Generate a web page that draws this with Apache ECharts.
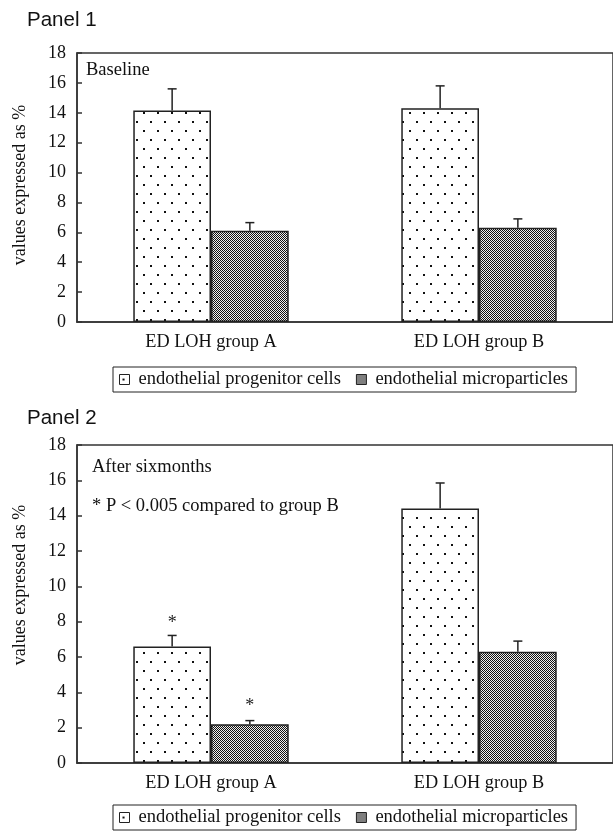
<!DOCTYPE html>
<html><head><meta charset="utf-8">
<script src="https://cdn.jsdelivr.net/npm/echarts@6/dist/echarts.min.js"></script>
<style>html,body{margin:0;padding:0;background:#fff}#c{width:613px;height:831px}</style>
</head><body><div id="c"></div>
<script>
// ---- data ----
const categories = ['ED LOH group A', 'ED LOH group B'];
const seriesNames = ['endothelial progenitor cells', 'endothelial microparticles'];
const yTickLabels = ['0', '2', '4', '6', '8', '10', '12', '14', '16', '18'];
const panel1EPC = [14.15, 14.3];
const panel1EPCErr = [1.45, 1.5];
const panel1EMP = [6.1, 6.3];
const panel1EMPErr = [0.55, 0.6];
const panel2EPC = [6.6, 14.4];
const panel2EPCErr = [0.62, 1.45];
const panel2EMP = [2.2, 6.3];
const panel2EMPErr = [0.2, 0.6];
const panel2EPCSig = [1, 0];
const panel2EMPSig = [1, 0];
const panel1Note = ['Baseline'];
const panel2Note = ['After sixmonths', '* P < 0.005 compared to group B'];

// ---- patterns ----
function dotPattern() {
  const c = document.createElement('canvas'); c.width = 14; c.height = 18;
  const g = c.getContext('2d');
  g.fillStyle = '#fff'; g.fillRect(0, 0, 14, 18);
  g.fillStyle = '#111';
  g.fillRect(3, 4, 2, 2); g.fillRect(10, 13, 2, 2);
  return c;
}
function checkPattern() {
  const c = document.createElement('canvas'); c.width = 2; c.height = 2;
  const g = c.getContext('2d');
  g.fillStyle = '#eee'; g.fillRect(0, 0, 2, 2);
  g.fillStyle = '#111'; g.fillRect(0, 0, 1, 1); g.fillRect(1, 1, 1, 1);
  return c;
}
const dots = { image: dotPattern(), repeat: 'repeat' };
const checks = { image: checkPattern(), repeat: 'repeat' };

const SERIF = '"Liberation Serif", "Times New Roman", serif';
const SANS = '"Liberation Sans", Arial, sans-serif';
const BAR_FRAC = 0.29;

function errRender(sign) {
  return function (params, api) {
    const i = api.value(0), v = api.value(1), e = api.value(2), s = api.value(3);
    const band = api.size([1, 0])[0];
    const base = api.coord([i, v]);
    const x = base[0] + sign * band * BAR_FRAC / 2;
    const top = api.coord([i, v + e])[1];
    const children = [
      { type: 'line', shape: { x1: x, y1: base[1], x2: x, y2: top }, style: { stroke: '#222', lineWidth: 1.5 } },
      { type: 'line', shape: { x1: x - 4.5, y1: top, x2: x + 4.5, y2: top }, style: { stroke: '#222', lineWidth: 1.5 } }
    ];
    if (s) children.push({ type: 'text', style: { text: '*', x: x, y: top - 4 - sign * 1, align: 'center', verticalAlign: 'bottom', font: '18px ' + SERIF, fill: '#222' } });
    return { type: 'group', children: children };
  };
}
function errData(vals, errs, sig) {
  return vals.map((v, i) => [i, v, errs[i], sig ? sig[i] : 0]);
}

const grids = [
  { left: 77, top: 53, width: 538, height: 269, show: true, borderColor: '#333', borderWidth: 1.5 },
  { left: 77, top: 445, width: 538, height: 318, show: true, borderColor: '#333', borderWidth: 1.5 }
];
function xAx(gi) {
  return {
    type: 'category', gridIndex: gi, data: categories,
    axisLine: { lineStyle: { color: '#333', width: 1.5 } },
    axisTick: { inside: true, length: 6, lineStyle: { color: '#333', width: 1.5 } },
    axisLabel: { fontFamily: SERIF, fontSize: 18.3, color: '#111', margin: 11 }
  };
}
function yAx(gi) {
  return {
    type: 'value', gridIndex: gi, min: 0, max: 18, interval: 2,
    axisLine: { show: true, lineStyle: { color: '#333', width: 1.5 } },
    axisTick: { show: true, inside: true, length: 5, lineStyle: { color: '#333', width: 1.5 } },
    splitLine: { show: false },
    axisLabel: { fontFamily: SERIF, fontSize: 18, color: '#111', margin: 11,
      formatter: function (v) { return yTickLabels[Math.round(v / 2)]; } }
  };
}
function barSeries(name, gi, data, fill) {
  return {
    type: 'bar', name: name, xAxisIndex: gi, yAxisIndex: gi, data: data,
    barWidth: (BAR_FRAC * 100) + '%', barGap: '0%',
    itemStyle: { color: fill, borderColor: '#222', borderWidth: 1.5 },
    emphasis: { disabled: true }, animation: false
  };
}
function errSeries(gi, data, sign) {
  return {
    type: 'custom', xAxisIndex: gi, yAxisIndex: gi, data: data, renderItem: errRender(sign),
    clip: false, z: 5, silent: true, animation: false
  };
}
function legendAt(left, top) {
  return {
    left: left, top: top, orient: 'horizontal',
    data: seriesNames.map(n => ({ name: n, icon: 'rect' })),
    borderColor: '#222', borderWidth: 1, padding: [2, 8, 2, 6],
    itemWidth: 10, itemHeight: 10, itemGap: 15, selectedMode: false,
    itemStyle: { borderColor: '#222', borderWidth: 1 },
    textStyle: { fontFamily: SERIF, fontSize: 18.5, color: '#111', lineHeight: 21, padding: [0, 0, 0, 4] }
  };
}
function txt(x, y, s, font, rot) {
  const o = { type: 'text', x: x, y: y, style: { text: s, font: font, fill: '#111', verticalAlign: 'middle', align: rot ? 'center' : 'left' } };
  if (rot) o.rotation = Math.PI / 2;
  return o;
}

const option = {
  backgroundColor: '#fff',
  animation: false,
  grid: grids,
  xAxis: [xAx(0), xAx(1)],
  yAxis: [yAx(0), yAx(1)],
  legend: [legendAt(113, 367), legendAt(113, 805)],
  series: [
    barSeries(seriesNames[0], 0, panel1EPC, dots),
    barSeries(seriesNames[1], 0, panel1EMP, checks),
    errSeries(0, errData(panel1EPC, panel1EPCErr), -1),
    errSeries(0, errData(panel1EMP, panel1EMPErr), 1),
    barSeries(seriesNames[0], 1, panel2EPC, dots),
    barSeries(seriesNames[1], 1, panel2EMP, checks),
    errSeries(1, errData(panel2EPC, panel2EPCErr, panel2EPCSig), -1),
    errSeries(1, errData(panel2EMP, panel2EMPErr, panel2EMPSig), 1)
  ],
  graphic: [
    txt(27, 20, 'Panel 1', '20.5px ' + SANS),
    txt(27, 418, 'Panel 2', '20.5px ' + SANS),
    txt(86, 70, panel1Note[0], '18.5px ' + SERIF),
    txt(92, 467, panel2Note[0], '18.5px ' + SERIF),
    txt(92, 506, panel2Note[1], '18.5px ' + SERIF),
    txt(20, 185, 'values expressed as %', '18px ' + SERIF, true),
    txt(20, 585, 'values expressed as %', '18px ' + SERIF, true)
  ]
};
const chart = echarts.init(document.getElementById('c'), null, { renderer: 'canvas' });
chart.setOption(option);
</script>
</body></html>
